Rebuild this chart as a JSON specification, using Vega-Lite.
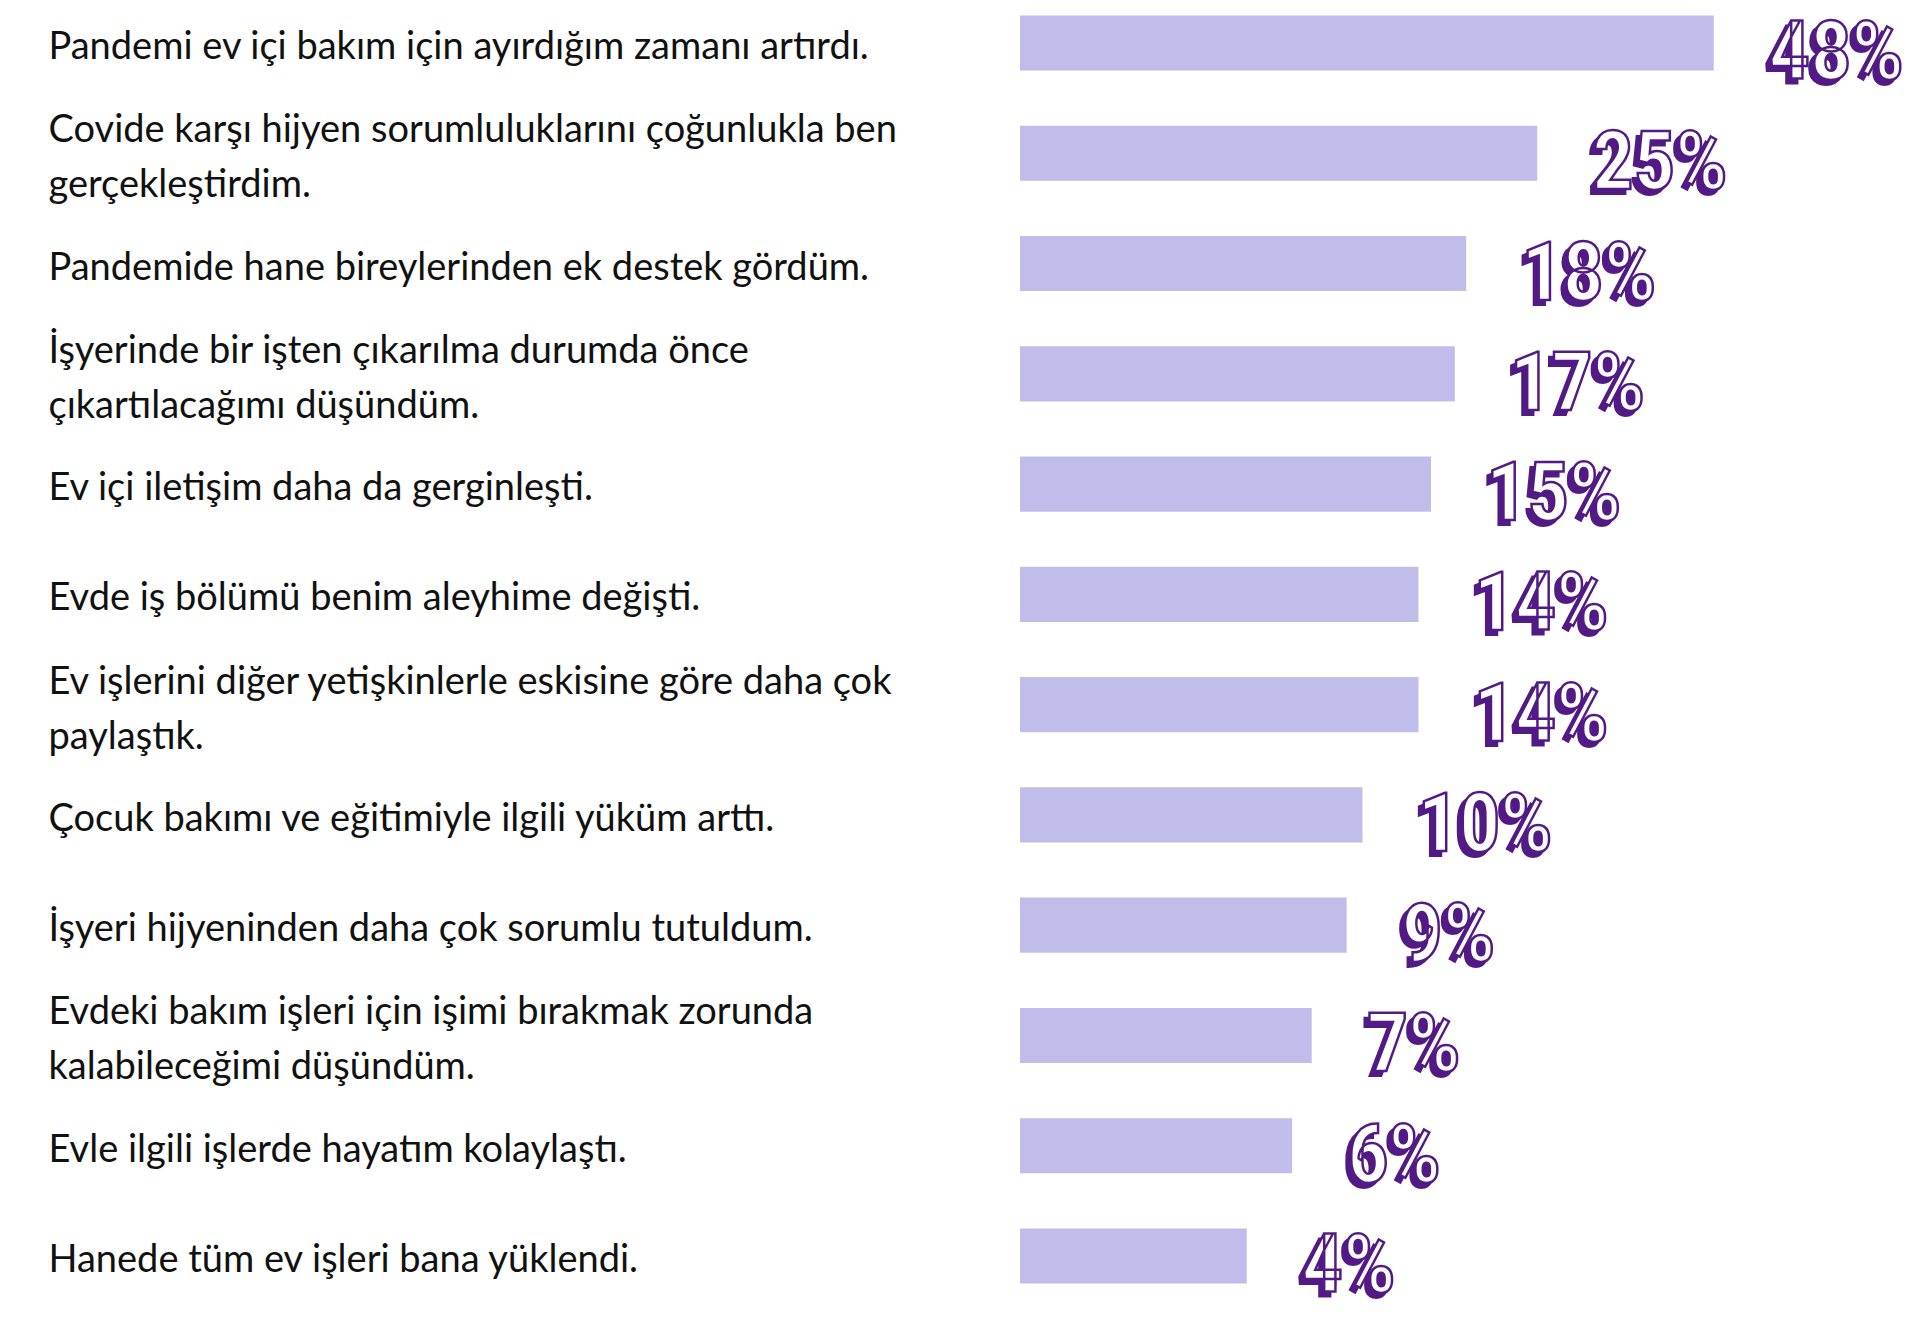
{
  "$schema": "https://vega.github.io/schema/vega-lite/v6.json",
  "autosize": {"type": "none"},
  "padding": {"left": 1020, "top": 0, "right": 0, "bottom": 23},
  "width": 900,
  "height": 1299,
  "background": "white",
  "config": {"view": {"stroke": null}},
  "data": {
    "values": [
      {"statement": "Pandemi ev içi bakım için ayırdığım zamanı artırdı.", "value": 48, "pct": "48%"},
      {"statement": "Covide karşı hijyen sorumluluklarını çoğunlukla ben\ngerçekleştirdim.", "value": 25, "pct": "25%"},
      {"statement": "Pandemide hane bireylerinden ek destek gördüm.", "value": 18, "pct": "18%"},
      {"statement": "İşyerinde bir işten çıkarılma durumda önce\nçıkartılacağımı düşündüm.", "value": 17, "pct": "17%"},
      {"statement": "Ev içi iletişim daha da gerginleşti.", "value": 15, "pct": "15%"},
      {"statement": "Evde iş bölümü benim aleyhime değişti.", "value": 14, "pct": "14%"},
      {"statement": "Ev işlerini diğer yetişkinlerle eskisine göre daha çok\npaylaştık.", "value": 14, "pct": "14%"},
      {"statement": "Çocuk bakımı ve eğitimiyle ilgili yüküm arttı.", "value": 10, "pct": "10%"},
      {"statement": "İşyeri hijyeninden daha çok sorumlu tutuldum.", "value": 9, "pct": "9%"},
      {"statement": "Evdeki bakım işleri için işimi bırakmak zorunda\nkalabileceğimi düşündüm.", "value": 7, "pct": "7%"},
      {"statement": "Evle ilgili işlerde hayatım kolaylaştı.", "value": 6, "pct": "6%"},
      {"statement": "Hanede tüm ev işleri bana yüklendi.", "value": 4, "pct": "4%"}
    ]
  },
  "encoding": {
    "y": {
      "field": "statement",
      "type": "nominal",
      "sort": null,
      "scale": {"paddingInner": 0.5, "paddingOuter": 0.14},
      "axis": {
        "title": null,
        "domain": false,
        "ticks": false,
        "labelAlign": "left",
        "labelPadding": 972,
        "labelLimit": 1000,
        "labelFontSize": 38,
        "labelFont": "Lato",
        "labelColor": "#111111",
        "labelLineHeight": 55,
        "labelBaseline": "middle",
        "labelOffset": {"condition": {"test": "indexof(datum.value, '\\n') >= 0", "value": -22}, "value": 5},
        "labelExpr": "split(datum.value, '\\n')"
      }
    },
    "x": {
      "field": "value",
      "type": "quantitative",
      "scale": {"type": "pow", "exponent": 0.45, "domain": [0, 85.6]},
      "axis": null
    }
  },
  "layer": [
    {"mark": {"type": "bar", "color": "#c0bdea"}},
    {
      "mark": {"type": "text", "align": "left", "baseline": "middle", "dx": 50, "dy": 16, "fontSize": 82, "font": "Noto Sans ExtraCondensed, Noto Sans Condensed, Roboto Condensed, DejaVu Sans Condensed, sans-serif", "fontWeight": "bold", "fill": "#521a85", "stroke": "#521a85", "strokeWidth": 2},
      "encoding": {"text": {"field": "pct"}}
    },
    {
      "mark": {"type": "text", "align": "left", "baseline": "middle", "dx": 55, "dy": 11, "fontSize": 82, "font": "Noto Sans ExtraCondensed, Noto Sans Condensed, Roboto Condensed, DejaVu Sans Condensed, sans-serif", "fontWeight": "bold", "fill": "white", "stroke": "#521a85", "strokeWidth": 2.5},
      "encoding": {"text": {"field": "pct"}}
    }
  ]
}
